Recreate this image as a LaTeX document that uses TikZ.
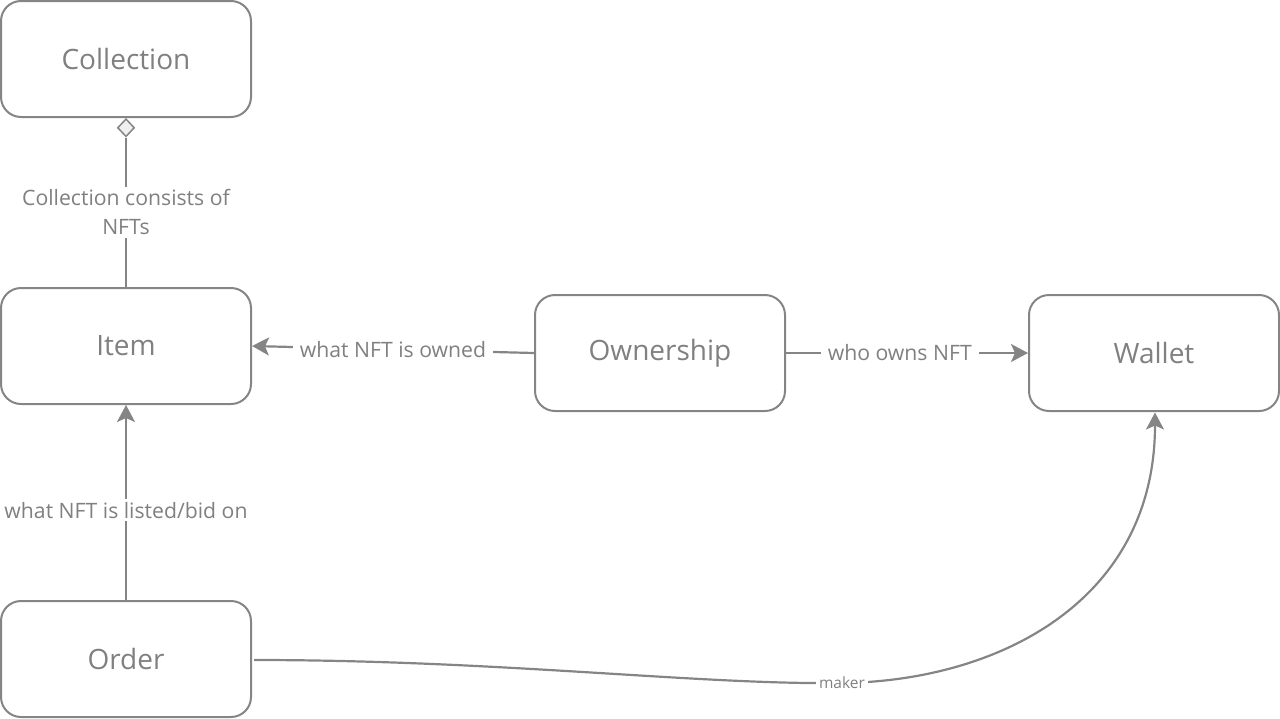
\documentclass[tikz,border=0pt]{standalone}
\usepackage{fontspec}
\setmainfont{Open Sans}
\usetikzlibrary{arrows.meta,shapes.geometric}
\definecolor{tc}{RGB}{128,128,128}
\definecolor{lc}{RGB}{133,133,133}
\begin{document}
\begin{tikzpicture}[x=1pt,y=-1pt,
  box/.style={draw=lc,line width=2pt,rounded corners=20pt,minimum width=250pt,minimum height=116pt,text=tc,font=\fontsize{28}{32}\selectfont,inner sep=0pt},
  conn/.style={draw=lc,line width=2.2pt},
  arr/.style={conn,-{Stealth[length=17pt,width=18pt,inset=4pt]}},
  elab/.style={fill=white,text=tc,font=\fontsize{21.2}{30}\selectfont,inner xsep=7pt,inner ysep=3pt,align=center},
  slab/.style={fill=white,text=tc,font=\fontsize{15.5}{18}\selectfont,inner sep=3pt}]
\useasboundingbox (0,0) rectangle (1280,718);
\node[box] (coll) at (126,59) {Collection};
\node[box] (item) at (126,346) {Item};
\node[box] (order) at (126,659) {Order};
\node[box] (own) at (660,353) {Ownership};
\node[box] (wal) at (1154,353) {Wallet};
\node[diamond,draw=lc,line width=1.5pt,fill=white!94!black,minimum width=17pt,minimum height=18pt,inner sep=0pt,anchor=north] (dia) at (coll.south) {};
\draw[conn] (item.north) -- node[elab,pos=0.5] (l1) {Collection consists of\\[-1pt]NFTs} (dia.south);
\draw[arr] (own.west) -- node[elab,pos=0.5] (l2) {what NFT is owned} (item.east);
\draw[arr] (own.east) -- node[elab,pos=0.47] (l3) {who owns NFT} (wal.west);
\draw[arr] (order.north) -- node[elab,pos=0.46] (l4) {what NFT is listed/bid on} (item.south);
\coordinate (mk) at (842,683);
\draw[conn] ([xshift=2pt,yshift=-1pt]order.east) .. controls (500,660) and (700,685) .. (mk);
\draw[arr] (mk) .. controls (1000,681) and (1155,600) .. (1155,412.5);
\node[slab] (l5) at (mk) {maker};
\end{tikzpicture}
\end{document}
